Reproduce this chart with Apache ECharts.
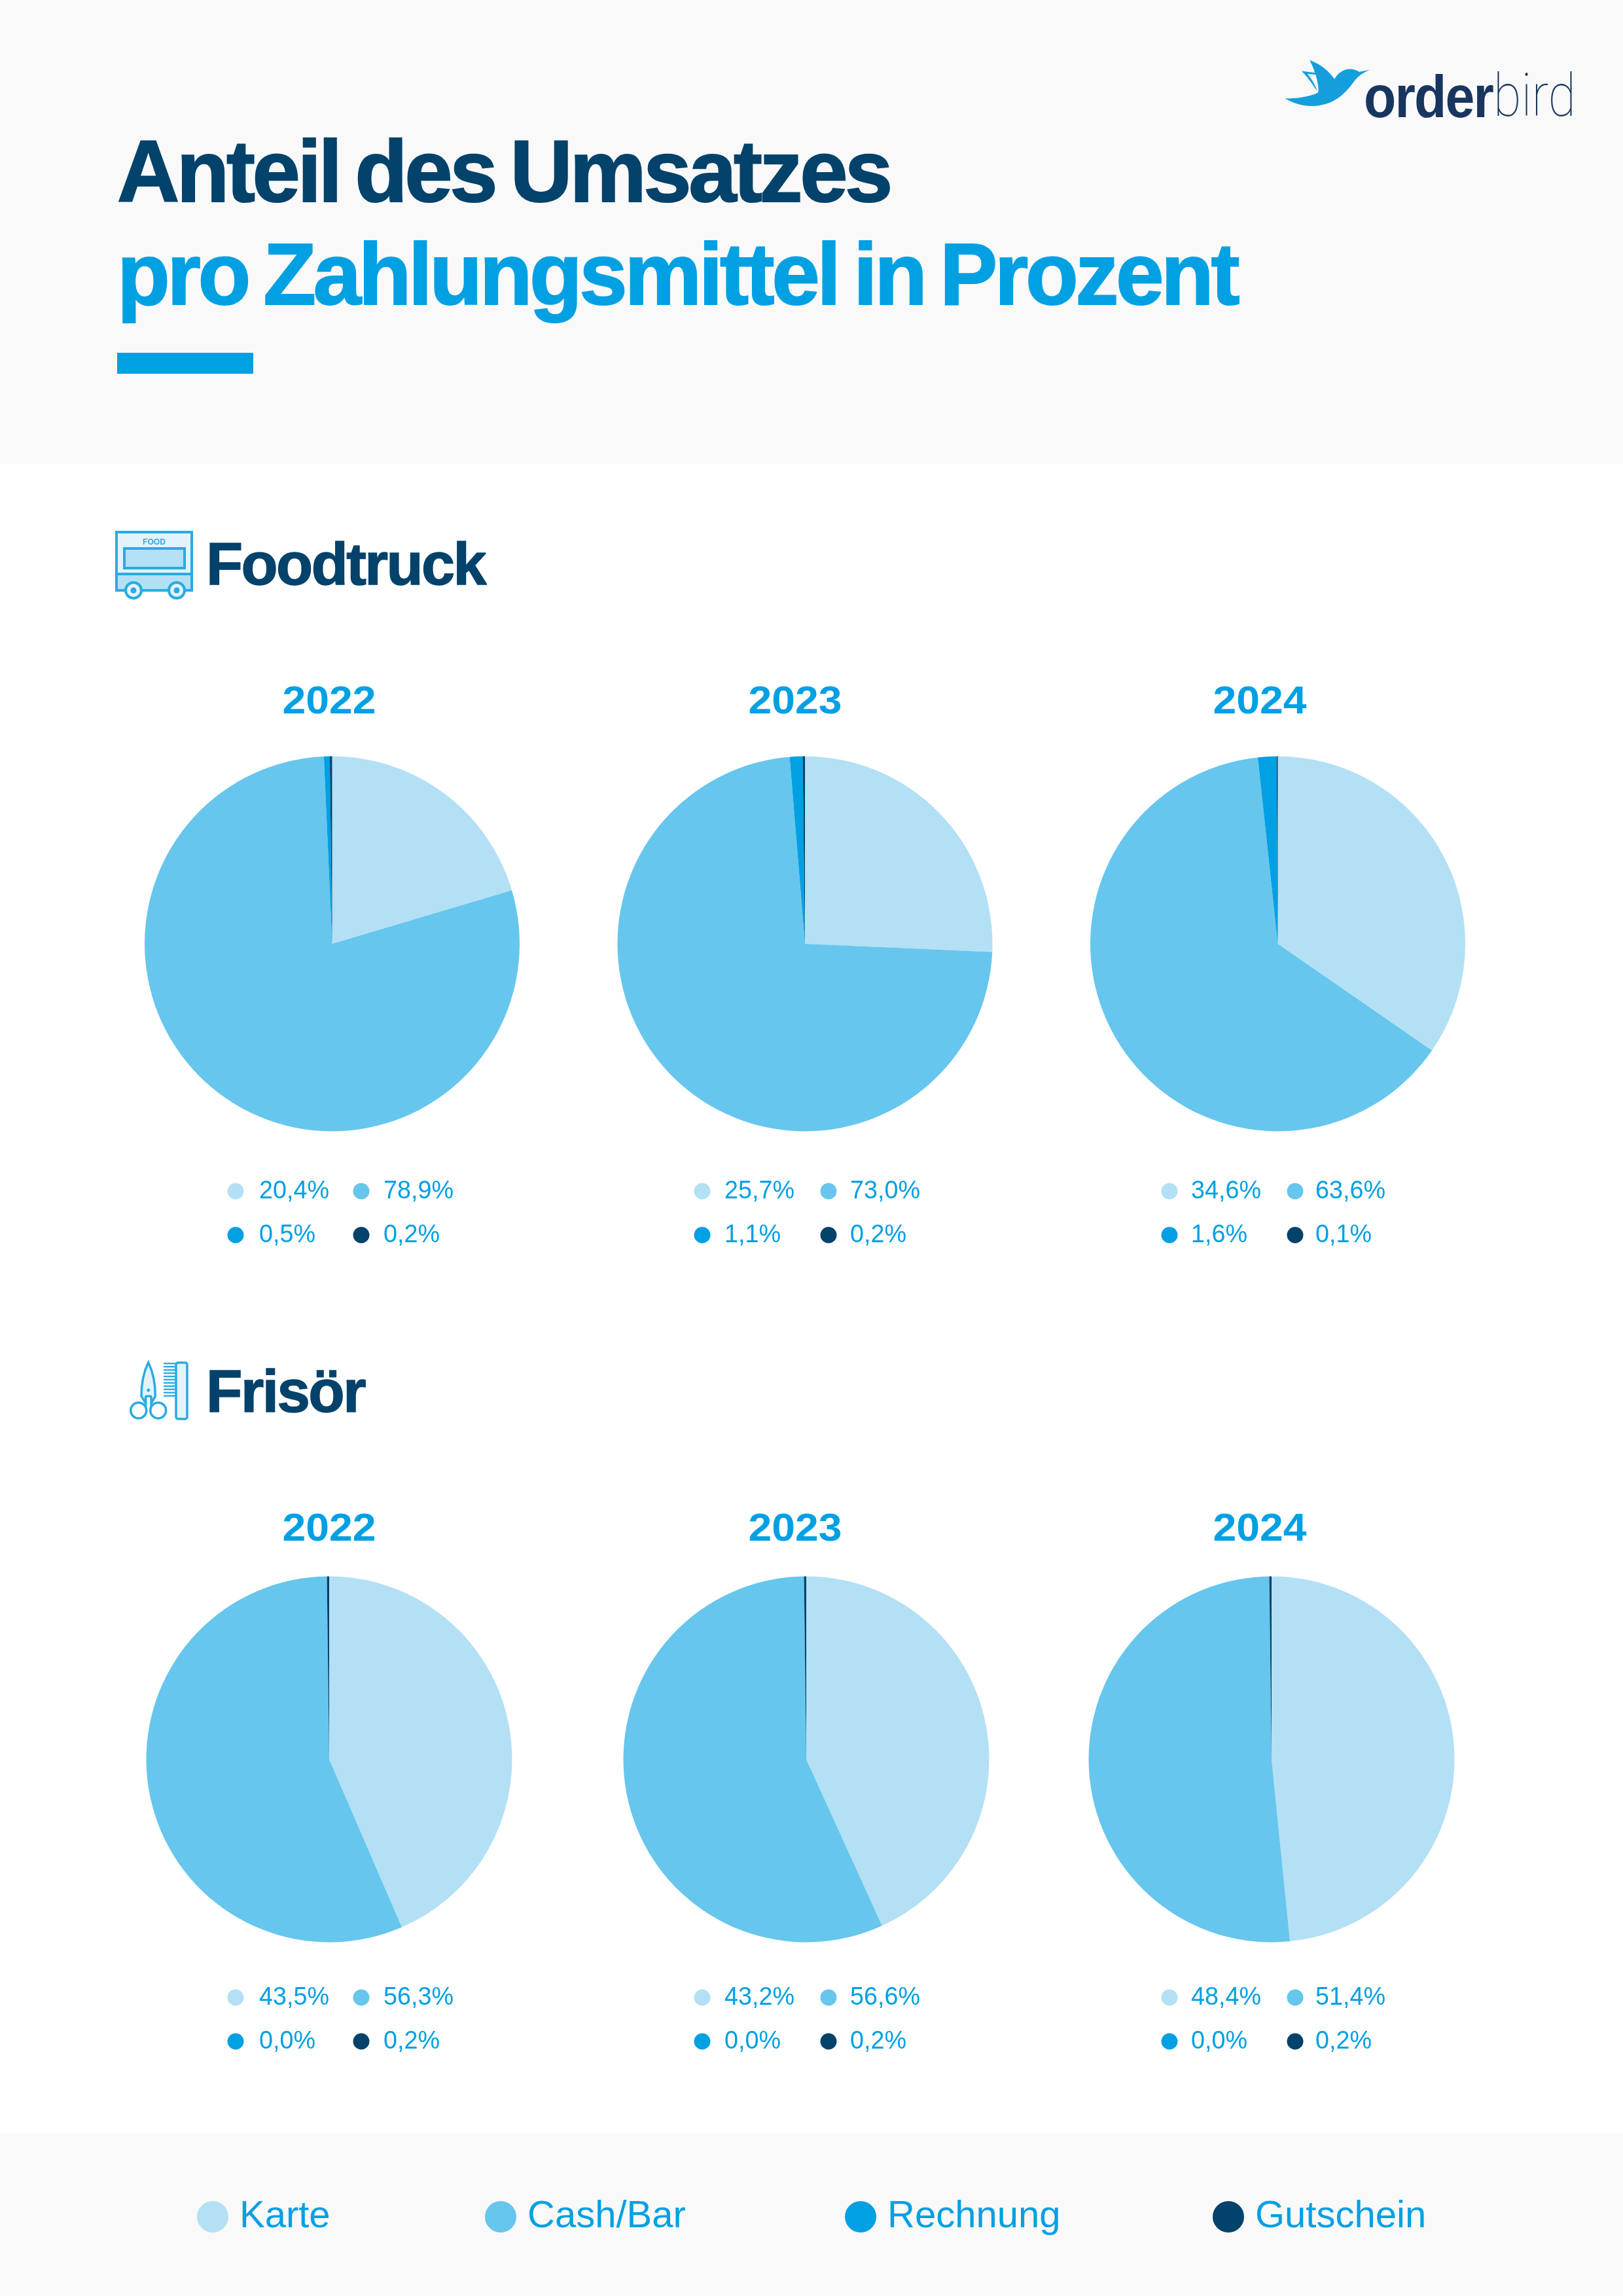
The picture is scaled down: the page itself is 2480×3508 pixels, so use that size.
<!DOCTYPE html>
<html><head><meta charset="utf-8">
<style>html,body{margin:0;padding:0;background:#fff}#c{width:2480px;height:3508px}</style>
<script src="https://cdn.jsdelivr.net/npm/echarts@6/dist/echarts.min.js"></script>
</head><body><div id="c"></div>
<script>
const categories = ['Karte','Cash/Bar','Rechnung','Gutschein'];
const years = ['2022','2023','2024'];
const colors = ['#b3e0f4','#66c6ed','#00a0e3','#03426b'];
const foodtruck2022 = [20.4,78.9,0.5,0.2];
const foodtruck2023 = [25.7,73.0,1.1,0.2];
const foodtruck2024 = [34.6,63.6,1.6,0.1];
const frisoer2022 = [43.5,56.3,0.0,0.2];
const frisoer2023 = [43.2,56.6,0.0,0.2];
const frisoer2024 = [48.4,51.4,0.0,0.2];

const DARK='#03426b', BLUE='#00a0e3', ICON='#29abe2', PALE='#e3f3fb', GREY='#f9f9f9';
const FF='"Liberation Sans",Arimo,Helvetica,Arial,sans-serif';

// tight tracking of the display type
const tracking=new Map();
['fillText','strokeText'].forEach(m=>{
  const orig=CanvasRenderingContext2D.prototype[m];
  CanvasRenderingContext2D.prototype[m]=function(t,x,y,w){
    const tr=tracking.get(t);
    this.letterSpacing=tr?tr[0]+'px':'0px';
    this.wordSpacing=tr?tr[1]+'px':'0px';
    const r=w===undefined?orig.call(this,t,x,y):orig.call(this,t,x,y,w);
    this.letterSpacing='0px';this.wordSpacing='0px';
    return r;
  };
});
const ctx=document.createElement('canvas').getContext('2d');
function fit(t,font,w,tr){
  ctx.font=font;
  ctx.letterSpacing=(tr?tr[0]:0)+'px';ctx.wordSpacing=(tr?tr[1]:0)+'px';
  const m=ctx.measureText(t).width;
  ctx.letterSpacing='0px';ctx.wordSpacing='0px';
  return w/m;
}
const g=[];
const MID=0.285;
function text(t,x,base,size,color,weight,width,opt){
  opt=opt||{};
  const font=`${weight} ${size}px ${opt.family||FF}`;
  if(opt.tr)tracking.set(t,opt.tr);
  const sx=width?fit(t,font,width,opt.tr):1;
  g.push({type:'text',x:x,y:base-MID*size,scaleX:sx,silent:true,
    style:{x:0,y:0,text:t,font:font,fill:color,stroke:opt.bold?color:null,lineWidth:opt.bold||0,align:opt.align||'left',verticalAlign:'middle'}});
}
function rect(x,y,w,h,fill,stroke,lw,r){
  g.push({type:'rect',silent:true,shape:{x,y,width:w,height:h,r:r||0},style:{fill:fill,stroke:stroke||null,lineWidth:lw||0}});
}
function circle(cx,cy,r,fill,stroke,lw){
  g.push({type:'circle',silent:true,shape:{cx,cy,r},style:{fill:fill,stroke:stroke||null,lineWidth:lw||0}});
}
let shapeNo=0;
function svgPath(d,x,y,sx,sy,fill,stroke,lw){
  const name='decor'+(shapeNo++);
  echarts.graphic.registerShape(name,echarts.graphic.extendPath(d,{}));
  g.push({type:name,silent:true,x,y,scaleX:sx,scaleY:sy,style:{fill:fill,stroke:stroke||null,lineWidth:lw||0,strokeNoScale:true}});
}

// backgrounds
rect(0,0,2480,709,GREY);
rect(0,3260,2480,248,GREY);
rect(179,539,208,32,BLUE);

// title
const titleTr=[-4.5,-9];
text('Anteil des Umsatzes',179,309,134,DARK,'bold',1181,{tr:titleTr,bold:2});
text('pro Zahlungsmittel in Prozent',179,466,134,BLUE,'bold',1711,{tr:titleTr,bold:2});

// logo
const bs=0.35, bx=1963-185*bs, by=92-95*bs;
svgPath('M185 262C240 262 290 255 330 237L333 225C330 180 315 135 294 95C340 110 375 140 403 177C420 145 450 130 480 134C495 136 505 142 510 146L557 137C530 148 510 160 490 185C450 240 400 295 300 295C260 295 220 280 185 262Z',bx,by,bs,bs,'#149fdc');
svgPath('M258 142L320 150L322 158L285 155C305 180 320 205 328 230C305 200 285 165 258 142Z',bx,by,bs,bs,'#149fdc');
text('order',2084,180,90,'#17355f','bold',197,{tr:[-2,0]});
text('bird',2282,180,90,'#17355f','100',126,{family:'Roboto,"Liberation Sans",sans-serif'});

// section: Foodtruck
const headTr=[-2.5,0];
text('Foodtruck',315,894,91,DARK,'bold',426,{tr:headTr,bold:1.5});
rect(178,813,115,64,PALE,ICON,4);
rect(190,838,92,30,'#b3e0f4',ICON,4);
rect(178,877,115,25,'#b3e0f4',ICON,4);
text('FOOD',218,832,13,ICON,'bold',35);
[204,270].forEach(cx=>{circle(cx,902,12,PALE,ICON,4);circle(cx,902,4.5,ICON);});

// section: Frisör
text('Frisör',315,2158,91,DARK,'bold',242,{tr:headTr,bold:1.5});
svgPath('M230 125C210 165 198 220 198 280L218 312L218 285Q218 280 222 280L238 280Q243 280 243 285L243 312L262 280C262 220 250 165 230 125Z',150,2040,1/3,1/3,PALE,ICON,3.5);
circle(211.7,2155,12,'#fff',ICON,3.5);
circle(241.7,2155,12,'#fff',ICON,3.5);
circle(226.7,2124,2.5,ICON);
rect(269,2082,17,86,PALE,ICON,3.5,3);
for(let i=0;i<11;i++)rect(250,2082+i*4.95,19,2.4,ICON);

// panels
const colCenters=[503,1215,1925];
const rowsCfg=[
 {data:[foodtruck2022,foodtruck2023,foodtruck2024],cx:[507.5,1230,1952.5],cy:1442,r:286.5,yearBase:1091,leg:[1820,1887]},
 {data:[frisoer2022,frisoer2023,frisoer2024],cx:[503,1232,1943],cy:2688,r:279.5,yearBase:2355,leg:[3052,3119]}
];
const dotX=[[360,552],[1073,1266],[1787,1979]];
const txtX=[[396,586],[1107,1299],[1820,2010]];
const fmt=v=>v.toFixed(1).replace('.',',')+'%';
const legFont=`normal 39px ${FF}`;
const legScale=fit('20,4%',legFont,107);
const series=[];
rowsCfg.forEach(row=>{
  row.data.forEach((vals,c)=>{
    series.push({type:'pie',center:[row.cx[c],row.cy],radius:[0,row.r],startAngle:90,clockwise:true,
      label:{show:false},labelLine:{show:false},silent:true,animation:false,
      emphasis:{disabled:true},
      data:vals.map((v,i)=>({name:categories[i],value:v,itemStyle:{color:colors[i]}}))});
    const ysize=60, yfont=`bold ${ysize}px ${FF}`;
    g.push({type:'text',x:colCenters[c],y:row.yearBase-MID*ysize,scaleX:fit(years[c],yfont,143),silent:true,
      style:{x:0,y:0,text:years[c],font:yfont,fill:BLUE,align:'center',verticalAlign:'middle'}});
    vals.forEach((v,i)=>{
      const col=i%2,rw=i<2?0:1;
      circle(dotX[c][col],row.leg[rw],12.5,colors[i]);
      g.push({type:'text',x:txtX[c][col],y:row.leg[rw],scaleX:legScale,silent:true,
        style:{x:0,y:0,text:fmt(v),font:legFont,fill:BLUE,align:'left',verticalAlign:'middle'}});
    });
  });
});

// bottom legend
const legLeft=[296,736,1286,1848];
const legend=categories.map((n,i)=>({data:[n],left:legLeft[i],top:3377-24,orient:'horizontal',icon:'circle',
  itemWidth:48,itemHeight:48,selectedMode:false,
  textStyle:{color:BLUE,fontFamily:FF,fontSize:58,padding:[0,0,0,12]}}));

const chart=echarts.init(document.getElementById('c'),null,{renderer:'canvas',width:2480,height:3508,devicePixelRatio:1});
chart.setOption({animation:false,backgroundColor:'#fff',legend:legend,series:series,graphic:{elements:g}});
</script></body></html>
